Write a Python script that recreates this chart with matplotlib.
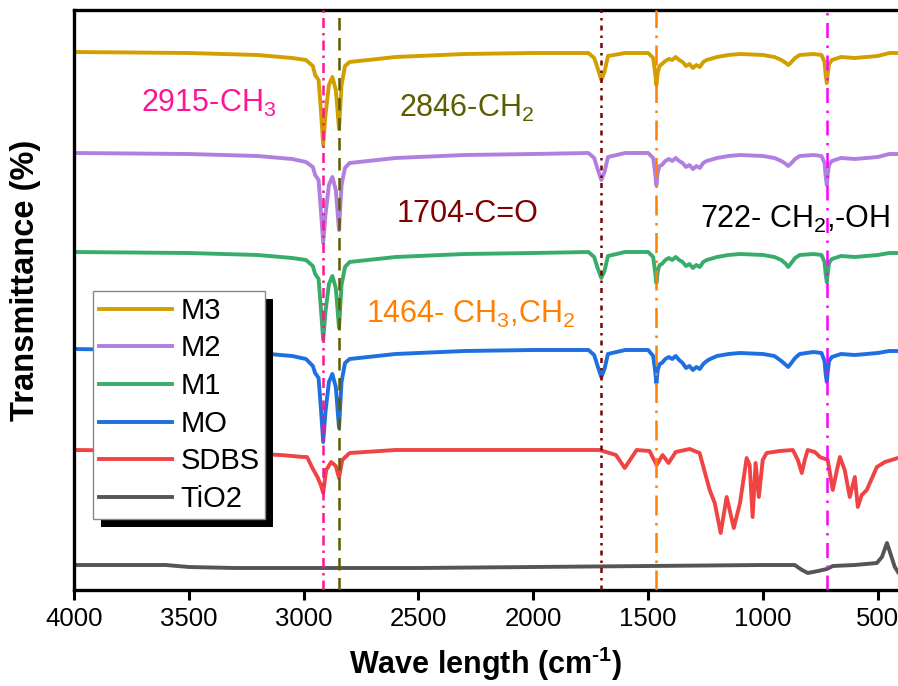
import matplotlib
matplotlib.use("Agg")
import matplotlib.pyplot as plt
from matplotlib.patches import Rectangle
import numpy as np

plt.rcParams["font.family"] = ["Liberation Sans", "DejaVu Sans"]
plt.rcParams["mathtext.fontset"] = "custom"
plt.rcParams["mathtext.rm"] = "Liberation Sans"
plt.rcParams["mathtext.it"] = "Liberation Sans:italic"
plt.rcParams["mathtext.bf"] = "Liberation Sans:bold"

# wavenumber grid shared by the M-series spectra (cm-1)
wn_m = [4000, 3500, 3200, 3050, 2990, 2960, 2950, 2935, 2925, 2915,
        2905, 2890, 2875, 2860, 2846, 2835, 2820, 2800, 2600, 2300,
        2000, 1760, 1735, 1720, 1704, 1690, 1675, 1600, 1500, 1478,
        1470, 1464, 1458, 1450, 1440, 1425, 1410, 1395, 1380, 1365,
        1350, 1335, 1320, 1305, 1290, 1275, 1260, 1245, 1230, 1200,
        1150, 1100, 1000, 950, 920, 900, 890, 880, 860, 840,
        780, 745, 732, 727, 722, 717, 712, 700, 660, 600,
        550, 500, 450, 410]

# transmittance (offset, arbitrary units)
t_m3 = [538, 537, 535, 532, 530, 524, 515, 510, 480, 445,
        475, 505, 513, 500, 461, 505, 524, 528, 533, 536,
        537, 537, 532, 522, 510, 518, 534, 537, 537, 532,
        518, 505, 518, 524, 526, 529, 531, 530, 533, 530,
        528, 524, 526, 522, 525, 523, 528, 530, 531, 533,
        535, 536, 535, 533, 530, 527, 525, 527, 532, 535,
        536, 535, 528, 515, 507, 518, 526, 530, 533, 532,
        533, 534, 537, 537]

t_m2 = [437, 436, 434, 431, 428, 423, 415, 410, 380, 347,
        375, 405, 413, 400, 360, 405, 422, 427, 432, 435,
        436, 437, 432, 421, 410, 418, 433, 437, 437, 432,
        418, 405, 418, 424, 425, 429, 431, 429, 432, 429,
        427, 423, 425, 421, 424, 422, 427, 429, 430, 432,
        434, 435, 434, 432, 429, 426, 424, 426, 431, 434,
        435, 434, 427, 414, 405, 417, 425, 429, 432, 431,
        432, 433, 436, 436]

t_m1 = [338, 337, 335, 332, 330, 324, 316, 311, 282, 250,
        278, 306, 314, 302, 262, 305, 323, 328, 333, 336,
        337, 338, 333, 322, 312, 319, 334, 338, 338, 333,
        319, 307, 319, 325, 326, 330, 332, 330, 333, 330,
        328, 324, 326, 322, 325, 323, 328, 330, 331, 333,
        335, 336, 335, 333, 330, 326, 323, 326, 332, 335,
        336, 335, 328, 316, 308, 319, 327, 331, 334, 333,
        334, 335, 337, 337]

t_mo = [241, 239, 237, 234, 231, 224, 217, 212, 182, 148,
        178, 208, 216, 203, 162, 208, 227, 231, 236, 239,
        240, 240, 235, 224, 213, 221, 236, 240, 240, 234,
        220, 207, 220, 226, 227, 231, 233, 231, 234, 230,
        227, 222, 224, 220, 223, 221, 226, 229, 231, 234,
        236, 237, 236, 234, 229, 225, 223, 226, 232, 236,
        238, 237, 229, 216, 208, 220, 229, 233, 236, 235,
        236, 237, 239, 239]

wn_sdbs = [4000, 3500, 3100, 3000, 2985, 2962, 2940, 2925, 2915, 2902,
           2880, 2860, 2846, 2832, 2800, 2600, 2000, 1712, 1640, 1602,
           1550, 1494, 1463, 1437, 1411, 1380, 1319, 1276, 1232, 1210,
           1184, 1158, 1127, 1100, 1071, 1058, 1045, 1032, 1018, 1001,
           984, 927, 870, 848, 831, 818, 805, 774, 752, 718,
           696, 678, 665, 644, 622, 600, 587, 570, 548, 504,
           469, 412]
t_sdbs = [140, 139, 135, 133, 133, 122, 113, 105, 97, 120,
          128, 124, 112, 130, 137, 140, 140, 140, 135, 122,
          140, 139, 125, 135, 127, 138, 141, 137, 100, 87,
          57, 93, 62, 87, 132, 125, 73, 127, 93, 130,
          137, 139, 140, 130, 117, 130, 140, 138, 133, 130,
          100, 120, 133, 120, 93, 113, 83, 95, 100, 123,
          128, 132]

wn_tio2 = [4000, 3600, 3500, 3300, 2500, 2000, 1500, 1000, 862, 830,
           805, 760, 722, 696, 600, 504, 482, 460, 443, 426, 412]
t_tio2 = [25, 25, 23, 22, 22, 23, 24, 25, 25, 20,
          17, 19, 21, 24, 25, 27, 33, 47, 35, 23, 18]

series = [
    ("M3", wn_m, t_m3, "#d29f00"),
    ("M2", wn_m, t_m2, "#b07fdf"),
    ("M1", wn_m, t_m1, "#38ad6b"),
    ("MO", wn_m, t_mo, "#1e6fe0"),
    ("SDBS", wn_sdbs, t_sdbs, "#f04444"),
    ("TiO2", wn_tio2, t_tio2, "#555555"),
]

# marker bands
band_pos = [2915, 2846, 1704, 1464, 722]
band_colors = ["#ff1493", "#5c5c00", "#800000", "#ff8000", "#ff00ff"]
band_styles = [(0, (4, 2, 1, 2)), (0, (5, 3)), (0, (2, 2, 1, 2)),
               (0, (8, 3, 1, 3)), (0, (6, 3, 1, 3))]

labels_txt = ["2915-CH$_3$", "2846-CH$_2$", "1704-C=O",
              "1464- CH$_3$,CH$_2$", "722- CH$_2$,-OH"]
labels_x = [3708, 2583, 2596, 2727, 1276]
labels_y = [478, 473, 368, 267, 362]
labels_col = ["#ff1493", "#5c5c00", "#800000", "#ff8000", "black"]

fig = plt.figure(figsize=(8.98, 6.86), dpi=100)
ax = fig.add_axes([74 / 898, 1 - 590 / 686, 824 / 898, 580 / 686])

for name, x, y, c in series:
    ax.plot(x, y, color=c, linewidth=2.8, label=name, zorder=2,
            solid_joinstyle="round")

for pos, c, ls in zip(band_pos, band_colors, band_styles):
    ax.axvline(pos, color=c, linestyle=ls, linewidth=1.8, zorder=3)

for t, x, y, c in zip(labels_txt, labels_x, labels_y, labels_col):
    ax.text(x, y, t, color=c, fontsize=22, ha="left", va="baseline", zorder=4)

ax.set_xlim(4000, 412)
ax.set_ylim(0, 580)
ax.set_xticks(np.arange(4000, 499, -500))
ax.tick_params(axis="x", labelsize=18.5, direction="out", length=7, width=2.2, pad=5)
ax.tick_params(axis="y", left=False, labelleft=False)
for side in ["left", "bottom", "top"]:
    ax.spines[side].set_linewidth(2.4)
ax.spines["right"].set_visible(False)

ax.set_xlabel("Wave length (cm$^{\\mathbf{\u20101}}$)", fontsize=22,
              fontweight="bold", labelpad=10)
ax.set_ylabel("Transmittance (%)", fontsize=23.5, fontweight="bold")
ax.yaxis.set_label_coords(-0.04, 0.534)

leg = ax.legend(loc="upper left", bbox_to_anchor=(0.023, 0.5155), borderaxespad=0,
                fontsize=21, handlelength=2.5, handletextpad=0.3, labelspacing=0.33,
                borderpad=0.2, fancybox=False, framealpha=1, edgecolor="#888888")
leg.get_frame().set_linewidth(1.0)
leg.set_zorder(5)

fig.canvas.draw()
bb = leg.get_window_extent()
inv = fig.transFigure.inverted()
(x0, y0), (x1, y1) = inv.transform([[bb.x0 + 8, bb.y0 - 8], [bb.x1 + 8, bb.y1 - 8]])
ax.add_patch(Rectangle((x0, y0), x1 - x0, y1 - y0, transform=fig.transFigure,
                       facecolor="black", edgecolor="none", zorder=4.9, clip_on=False))

fig.savefig("out.png", dpi=100)
plt.close(fig)
